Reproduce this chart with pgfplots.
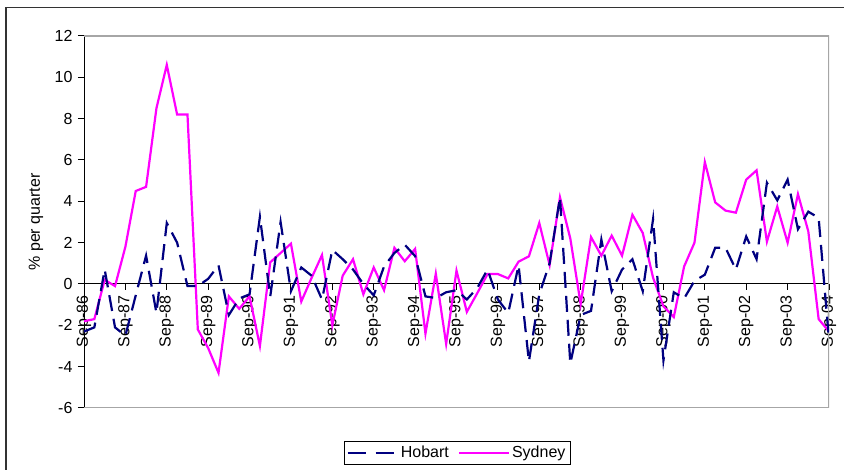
\documentclass[border=0pt]{standalone}
\usepackage{pgfplots}
\usepackage{pgfplotstable}
\pgfplotsset{compat=1.18}
\usepackage{fontspec}
\setmainfont{Liberation Sans}
\definecolor{hob}{RGB}{0,0,128}
\definecolor{syd}{RGB}{255,0,255}
\pgfplotstableread{
q hob syd
0 -2.3 -1.8
1 -2.1 -1.7
2 0.7 0.2
3 -2.1 -0.1
4 -2.5 1.8
5 -0.55 4.5
6 1.37 4.7
7 -1.4 8.5
8 2.95 10.6
9 2.0 8.2
10 -0.1 8.2
11 -0.1 -2.2
12 0.25 -3.1
13 0.9 -4.3
14 -1.5 -0.6
15 -0.7 -1.2
16 -0.5 -0.6
17 3.25 -3.0
18 -0.6 1.05
19 3.0 1.5
20 -0.35 1.95
21 0.8 -0.85
22 0.4 0.3
23 -0.75 1.4
24 1.65 -2.0
25 1.2 0.4
26 0.7 1.2
27 0.0 -0.5
28 -0.55 0.8
29 0.85 -0.3
30 1.5 1.75
31 1.9 1.1
32 1.35 1.7
33 -0.6 -2.4
34 -0.68 0.5
35 -0.4 -2.9
36 -0.3 0.65
37 -0.75 -1.35
38 -0.2 -0.45
39 0.7 0.48
40 -0.75 0.48
41 -1.4 0.27
42 0.9 1.08
43 -3.75 1.34
44 -0.5 2.95
45 1.0 0.92
46 4.2 4.2
47 -3.85 2.2
48 -1.5 -0.97
49 -1.3 2.27
50 2.15 1.37
51 -0.35 2.34
52 0.7 1.37
53 1.2 3.35
54 -0.35 2.47
55 3.15 0.3
56 -3.7 -1.08
57 -0.4 -1.6
58 -0.7 0.85
59 0.15 2.0
60 0.45 5.9
61 1.75 3.95
62 1.75 3.55
63 0.7 3.45
64 2.3 5.05
65 1.2 5.5
66 4.9 2.05
67 4.05 3.75
68 5.05 2.0
69 2.65 4.35
70 3.5 2.55
71 3.2 -1.7
72 -2.7 -2.3
}\datatable
\begin{document}
\fontsize{16}{19}\selectfont
\begin{tikzpicture}[x=1pt,y=1pt]
\useasboundingbox (0,0) rectangle (844,470);
\draw[line width=1.5pt, black!80] (6,-20) -- (6,462.5) -- (880,462.5);
\begin{axis}[
  at={(84pt,62pt)}, anchor=south west, scale only axis,
  width=745pt, height=372pt,
  xmin=0, xmax=72, ymin=-6, ymax=12,
  ytick={-6,-4,...,12},
  xtick={0,4,...,72},
  xticklabels={Sep-86,Sep-87,Sep-88,Sep-89,Sep-90,Sep-91,Sep-92,Sep-93,Sep-94,Sep-95,Sep-96,Sep-97,Sep-98,Sep-99,Sep-00,Sep-01,Sep-02,Sep-03,Sep-04},
  axis x line=middle, axis y line=left,
  axis line style={-, black, line width=1pt},
  hide obscured x ticks=false, hide obscured y ticks=false,
  tick align=outside, major tick length=6pt,
  tick style={black, line width=1pt},
  xticklabel style={rotate=90, anchor=east},
  tick label style={font=\fontsize{16}{19}\selectfont},
  label style={font=\fontsize{16}{19}\selectfont},
  /pgf/number format/assume math mode=true,
  ylabel={\% per quarter},
  every axis y label/.style={at={(axis description cs:-0.0645,0.5)},rotate=90,anchor=center},
  legend columns=2,
  legend style={at={(axis description cs:0.5007,-0.121)}, anchor=center, draw=black, line width=0.8pt,
    font=\fontsize{16}{19}\selectfont, inner sep=2.5pt,
    /tikz/every even column/.append style={column sep=7pt}},
  legend image code/.code={\draw[#1] (0pt,0pt) -- (50pt,0pt);},
]
\draw[gray!70, line width=1.4pt] (rel axis cs:0,0) -- (rel axis cs:1,0) -- (rel axis cs:1,1) -- (rel axis cs:0,1);
\addlegendimage{hob, line width=2.2pt, dash pattern=on 18pt off 10pt}
\addlegendentry{Hobart}
\addlegendimage{syd, line width=2.2pt}
\addlegendentry{Sydney}
\addplot[syd, line width=2.2pt, forget plot] table[x=q, y=syd] {\datatable};
\addplot[hob, line width=2.2pt, dash pattern=on 16pt off 8pt, forget plot] table[x=q, y=hob] {\datatable};
\end{axis}
\end{tikzpicture}
\end{document}
